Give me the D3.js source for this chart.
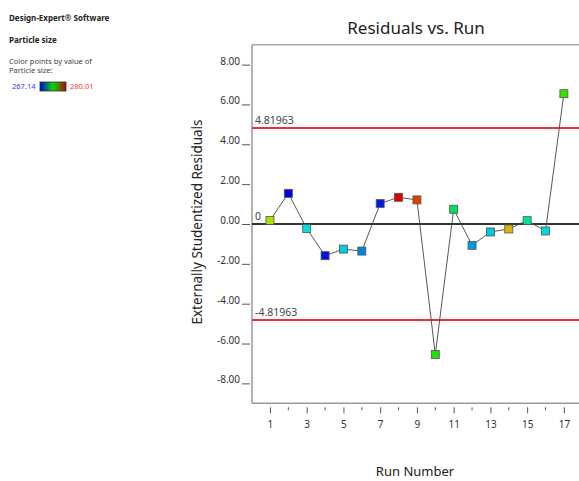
<!DOCTYPE html>
<html><head><meta charset="utf-8">
<script src="https://cdn.jsdelivr.net/npm/d3@7"></script>
<style>body{margin:0;background:#fff}svg{display:block}text{font-family:"Noto Sans",sans-serif}</style>
</head><body><svg id="c" width="579" height="481"></svg>
<script>
const runs = [1,2,3,4,5,6,7,8,9,10,11,12,13,14,15,16,17];
const residuals = [0.18,1.54,-0.23,-1.59,-1.26,-1.36,1.03,1.34,1.21,-6.55,0.74,-1.07,-0.40,-0.25,0.17,-0.35,6.54];
const particleSize = [276.02,267.14,270.36,267.40,270.10,269.07,267.53,280.01,279.11,273.96,272.29,269.33,269.97,277.44,271.39,270.23,274.35];
const limits = [4.81963,-4.81963];
const yTicks = [8,6,4,2,0,-2,-4,-6,-8];
const xMajor = [1,3,5,7,9,11,13,15,17];
const xMinor = [2,4,6,8,10,12,14,16];
const sizeRange = [267.14,280.01];

const svg = d3.select("#c");
const L = 252, T = 44.7, B = 403.3;
const x = d3.scaleLinear().domain([0,18]).range([251.6, 251.6+18*18.37]);
const y = d3.scaleLinear().domain([-9,9]).range([B, T]);
const t = d3.scaleLinear().domain(sizeRange).range([0,1]);
const col = d3.scaleLinear().domain([0,0.25,0.5,0.75,1]).range(["#0000e0","#00e0e0","#00e000","#e0e000","#e00000"]);

// header text
svg.append("text").attr("x",9).attr("y",21).attr("font-size",8).attr("font-weight","bold").attr("fill","#222").text("Design-Expert® Software");
svg.append("text").attr("x",9).attr("y",43).attr("font-size",8).attr("font-weight","bold").attr("fill","#222").text("Particle size");
svg.append("text").attr("x",9).attr("y",64).attr("font-size",7.5).attr("fill","#444").text("Color points by value of");
svg.append("text").attr("x",9).attr("y",73).attr("font-size",7.5).attr("fill","#444").text("Particle size:");
const grad = svg.append("defs").append("linearGradient").attr("id","g");
[[0,"#0000e0"],[0.5,"#00e000"],[1,"#c00000"]].forEach(s=>grad.append("stop").attr("offset",s[0]).attr("stop-color",s[1]));
svg.append("text").attr("x",12).attr("y",89).attr("font-size",7.5).attr("fill","#3333ff").text(sizeRange[0].toFixed(2));
svg.append("rect").attr("x",40).attr("y",82).attr("width",26).attr("height",9).attr("fill","url(#g)").attr("stroke","#333").attr("stroke-width",0.8);
svg.append("text").attr("x",70).attr("y",89).attr("font-size",7.5).attr("fill","#ff3333").text(sizeRange[1].toFixed(2));

// plot frame
svg.append("line").attr("x1",L).attr("x2",579).attr("y1",T).attr("y2",T).attr("stroke","#aaa").attr("stroke-width",1.5);
svg.append("line").attr("x1",L).attr("x2",579).attr("y1",B).attr("y2",B).attr("stroke","#999").attr("stroke-width",1.5);
svg.append("line").attr("x1",L).attr("x2",L).attr("y1",T).attr("y2",B).attr("stroke","#999").attr("stroke-width",1.5);

// y axis
const yAxis = d3.axisLeft(y).tickValues(yTicks).tickSize(9).tickPadding(2).tickFormat(d=>d.toFixed(2));
const ya = svg.append("g").attr("transform",`translate(${L-1},0)`).call(yAxis);
ya.select(".domain").remove();
ya.selectAll(".tick line").attr("stroke","#555").attr("x2",-1).attr("x1",-9);
ya.selectAll(".tick text").attr("font-size",10).attr("fill","#333").attr("dy","-0.05em").attr("font-family","Noto Sans");

// x axis
const xa = svg.append("g").attr("transform",`translate(0,${B+4})`).call(d3.axisBottom(x).tickValues(xMajor).tickSize(6).tickPadding(8).tickFormat(d3.format("d")));
xa.select(".domain").remove();
xa.selectAll(".tick line").attr("stroke","#555");
xa.selectAll(".tick text").attr("font-size",10).attr("fill","#333").attr("font-family","Noto Sans");
svg.append("g").selectAll("line").data(xMinor).join("line")
  .attr("x1",d=>x(d)).attr("x2",d=>x(d)).attr("y1",B+4).attr("y2",B+7).attr("stroke","#555");

// reference lines
svg.append("line").attr("x1",L).attr("x2",579).attr("y1",y(0)).attr("y2",y(0)).attr("stroke","#333").attr("stroke-width",1.8);
limits.forEach(v=>svg.append("line").attr("x1",L).attr("x2",579).attr("y1",y(v)).attr("y2",y(v)).attr("stroke","#f03030").attr("stroke-width",1.8));
svg.append("text").attr("x",255).attr("y",y(0)-4).attr("font-size",10.5).attr("fill","#444").text("0");
limits.forEach(v=>svg.append("text").attr("x",255).attr("y",y(v)-4).attr("font-size",10.5).attr("fill","#444").text(String(v)));

// line + points
const pts = runs.map((r,i)=>({r,v:residuals[i],s:particleSize[i]}));
svg.append("path").datum(pts).attr("fill","none").attr("stroke","#444").attr("stroke-width",0.9)
  .attr("d",d3.line().x(d=>x(d.r)).y(d=>y(d.v)));
svg.append("g").selectAll("rect").data(pts).join("rect")
  .attr("x",d=>x(d.r)-4).attr("y",d=>y(d.v)-4).attr("width",8).attr("height",8)
  .attr("fill",d=>col(t(d.s))).attr("stroke","#555").attr("stroke-width",0.8);

// titles
svg.append("text").attr("x",416).attr("y",34).attr("text-anchor","middle").attr("font-size",17).attr("fill","#222").text("Residuals vs. Run");
svg.append("text").attr("x",415).attr("y",476).attr("text-anchor","middle").attr("font-size",13).attr("fill","#222").text("Run Number");
svg.append("text").attr("transform","translate(202,222) rotate(-90)").attr("text-anchor","middle").attr("font-size",13.5).attr("fill","#222").text("Externally Studentized Residuals");
</script></body></html>
